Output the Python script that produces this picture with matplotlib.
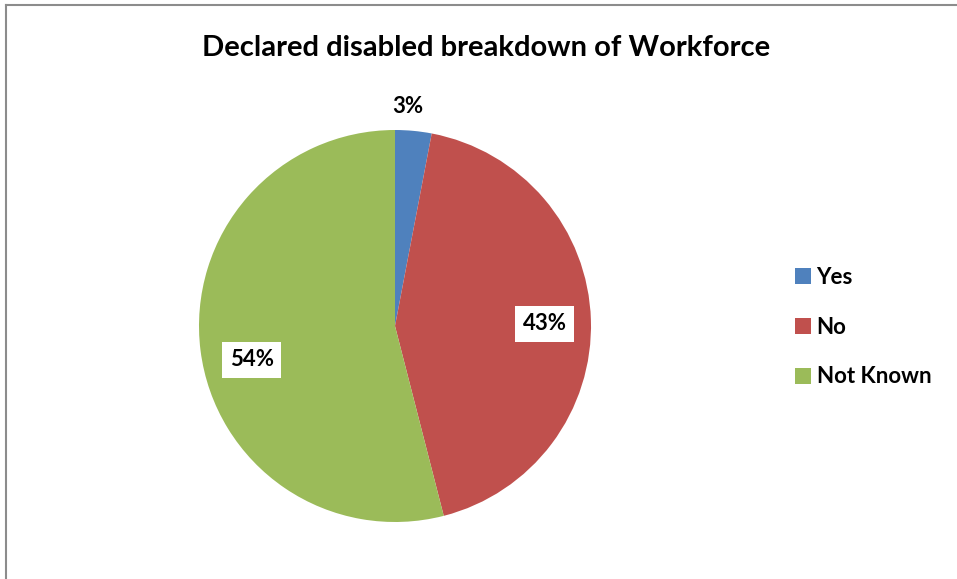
import matplotlib
matplotlib.use("Agg")
import matplotlib.pyplot as plt
import numpy as np
from matplotlib.lines import Line2D
from matplotlib.patches import Patch

categories = ["Yes", "No", "Not Known"]
values = [3, 43, 54]
colors = ["#4F81BD", "#C0504D", "#9BBB59"]
title = "Declared disabled breakdown of Workforce"

plt.rcParams["font.family"] = ["Lato", "DejaVu Sans"]

W, H = 957, 579
fig = plt.figure(figsize=(W / 100, H / 100), dpi=100)
fig.patch.set_facecolor("white")

# grey chart frame (right/bottom edges are cropped in the original)
fig.add_artist(Line2D([6 / W, 1], [1 - 5 / H, 1 - 5 / H], color="#8c8c8c", lw=1.5))
fig.add_artist(Line2D([6 / W, 6 / W], [0, 1 - 5 / H], color="#8c8c8c", lw=1.5))

cx, cy, r = 395, 326, 196
ax = fig.add_axes([(cx - r) / W, (H - cy - r) / H, 2 * r / W, 2 * r / H])
ax.axis("off")

wedges, _, autotexts = ax.pie(
    values, colors=colors, startangle=90, counterclock=False,
    autopct=lambda p: f"{p:.0f}%", pctdistance=0.75, radius=1,
    wedgeprops=dict(linewidth=0),
)
# pie() resets the limits, so pin them afterwards
ax.set_xlim(-1, 1)
ax.set_ylim(-1, 1)
ax.set_aspect("equal")

# label radius and angular nudge (deg) from the slice middle
label_r = [1.12, 0.765, 0.75]
label_dt = [2, -1, 6]
for w, t, lr, dt in zip(wedges, autotexts, label_r, label_dt):
    mid = np.deg2rad((w.theta1 + w.theta2) / 2 + dt)
    t.set_position((lr * np.cos(mid), lr * np.sin(mid)))
    t.set_fontsize(16)
    t.set_fontweight("bold")
    t.set_color("black")
    t.set_clip_on(False)
for t in autotexts[1:]:
    t.set_bbox(dict(facecolor="white", edgecolor="none", pad=5.5))

fig.text(486 / W, 1 - 48 / H, title, ha="center", va="center",
         fontsize=21, fontweight="bold")

handles = [Patch(facecolor=c, edgecolor="none") for c in colors]
fig.legend(handles, categories, loc="center left", bbox_to_anchor=(775 / W, 1 - 327 / H),
           frameon=False, handlelength=0.72, handleheight=0.72,
           handletextpad=0.25, labelspacing=1.3,
           prop=dict(weight="bold", size=16))

fig.savefig("out.png", dpi=100)
